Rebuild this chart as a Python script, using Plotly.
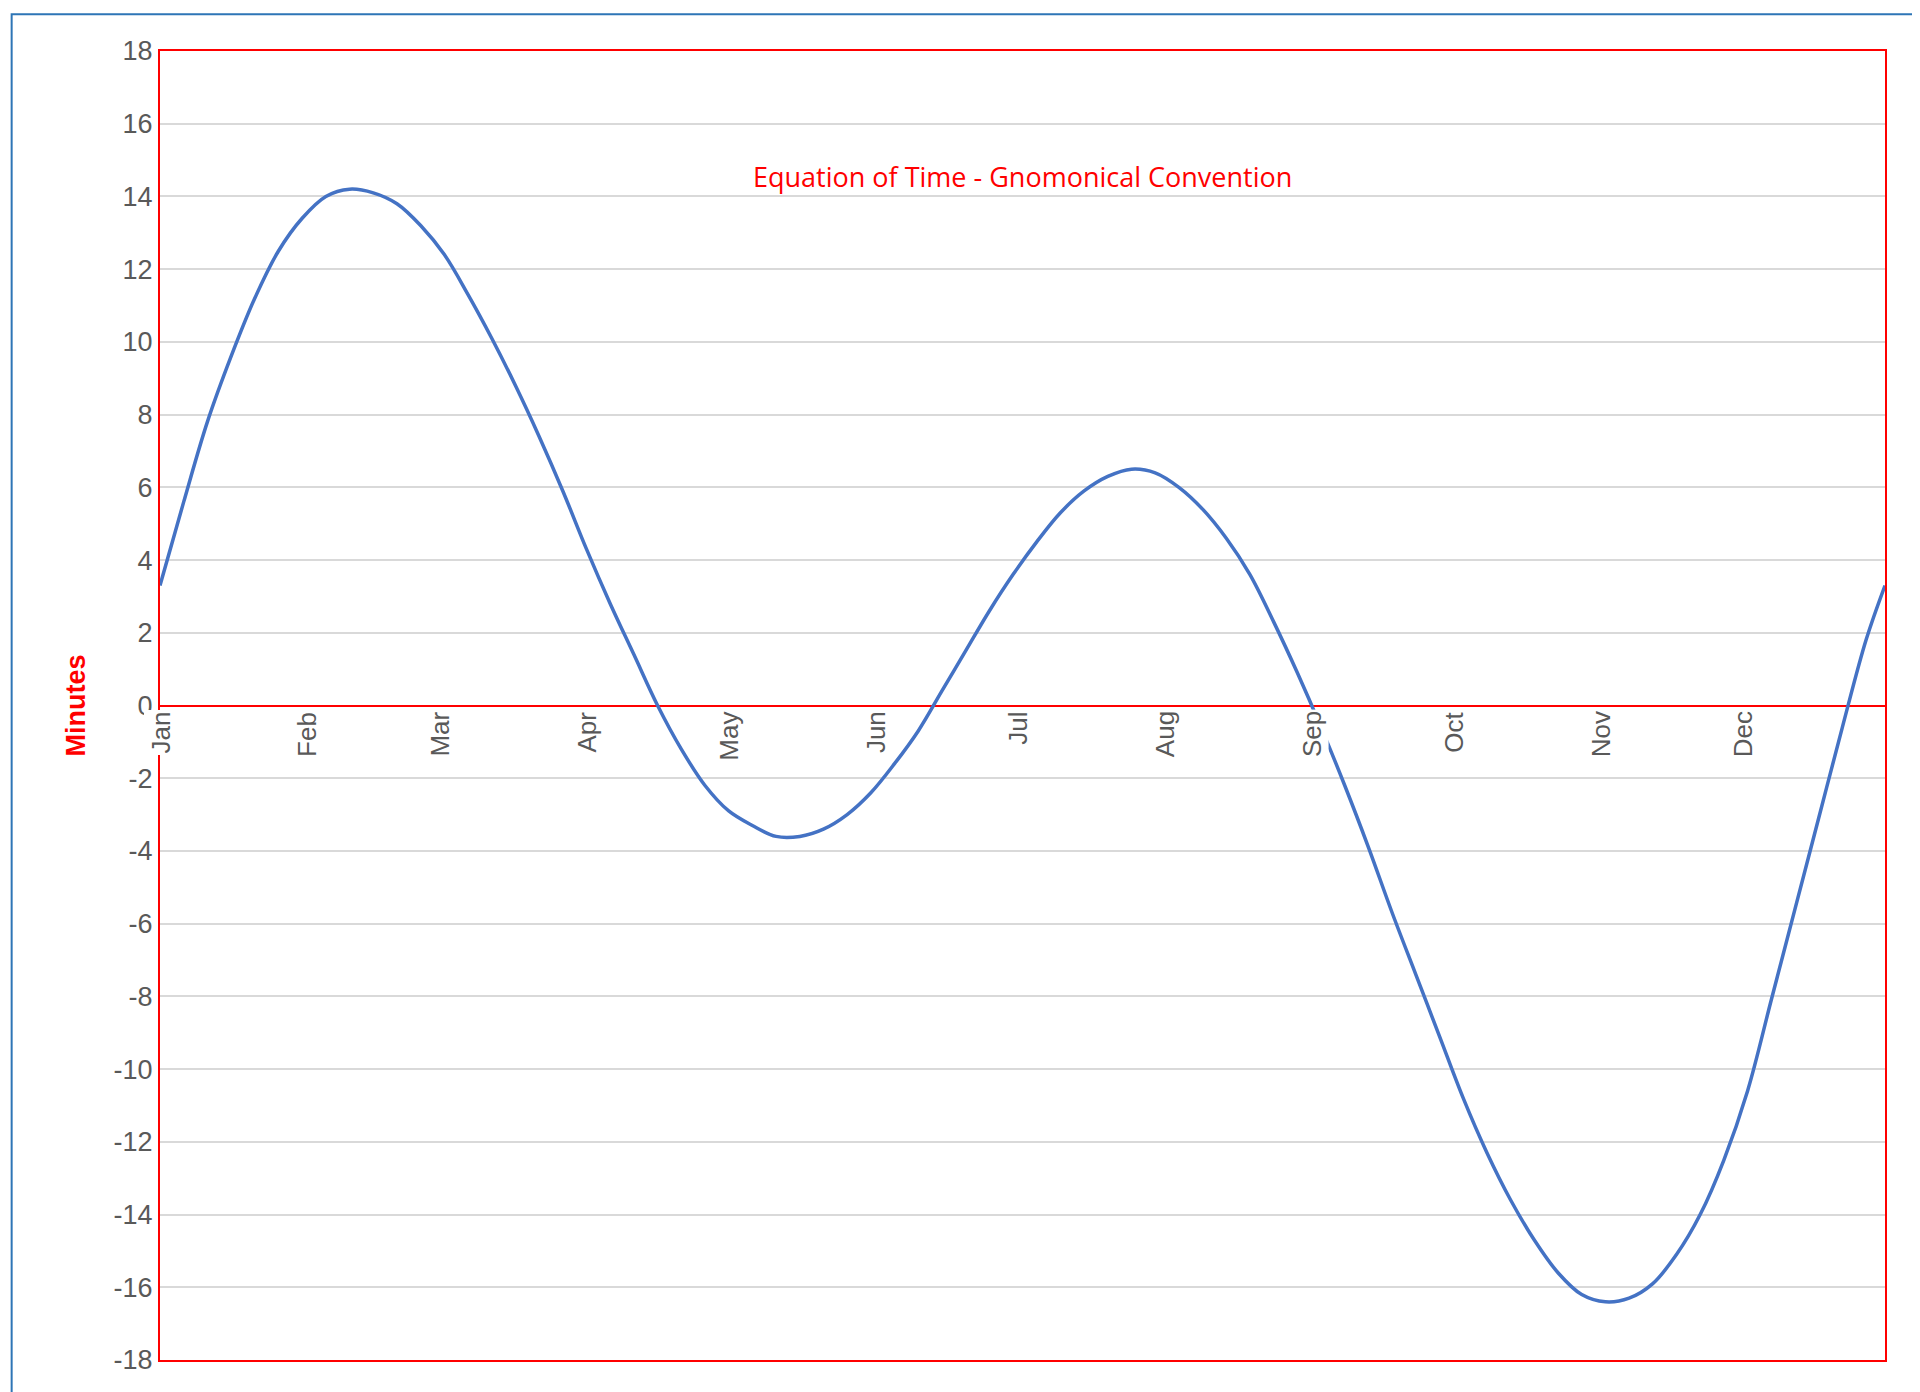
import plotly.graph_objects as go

days = [1,6,11,16,21,26,31,36,41,46,51,56,61,66,71,76,81,86,91,96,101,106,111,116,121,126,131,136,141,146,151,156,161,166,171,176,181,186,191,196,201,206,211,216,221,226,231,236,241,246,251,256,261,266,271,276,281,286,291,296,301,306,311,316,321,326,331,336,341,346,351,356,361,365]
eot = [3.3,5.6,7.8,9.6,11.2,12.5,13.4,14.0,14.2,14.1,13.8,13.2,12.4,11.3,10.1,8.8,7.4,5.9,4.3,2.8,1.4,0.0,-1.2,-2.2,-2.9,-3.3,-3.6,-3.6,-3.4,-3.0,-2.4,-1.6,-0.7,0.4,1.5,2.6,3.6,4.5,5.3,5.9,6.3,6.5,6.4,6.0,5.4,4.6,3.6,2.3,0.9,-0.6,-2.2,-3.9,-5.7,-7.4,-9.1,-10.8,-12.3,-13.6,-14.7,-15.6,-16.2,-16.4,-16.3,-15.9,-15.1,-14.0,-12.5,-10.6,-8.1,-5.6,-3.1,-0.6,1.8,3.3]
month_days = [1,32,60,91,121,152,182,213,244,274,305,335]
month_names = ["Jan","Feb","Mar","Apr","May","Jun","Jul","Aug","Sep","Oct","Nov","Dec"]
yticks = list(range(-18, 19, 2))
ytick_text = [str(v) for v in yticks]

fig = go.Figure(go.Scatter(x=days, y=eot, mode="lines", line=dict(color="#4472C4", width=3.5, shape="spline")))
for d, m in zip(month_days, month_names):
    fig.add_annotation(x=d, y=0, xref="x", yref="y", text=m, textangle=-90, showarrow=False,
                       yanchor="top", yshift=-4, bgcolor="white", font=dict(size=26, color="#595959", family="Liberation Sans"))
fig.add_annotation(x=0.5, y=0.92, xref="paper", yref="paper", text="Equation of Time - Gnomonical Convention",
                   showarrow=False, font=dict(size=27, color="red", family="Open Sans"))
fig.add_shape(type="rect", xref="paper", yref="paper", x0=-0.086, x1=1.0203, y0=-0.0252, y1=1.028,
              line=dict(color="#2E75B6", width=2))
fig.update_layout(
    width=1920, height=1392, plot_bgcolor="white", paper_bgcolor="white", showlegend=False,
    margin=dict(l=152, r=43, t=43, b=40),
    xaxis=dict(range=[1, 365], showgrid=False, showticklabels=False, zeroline=False,
               showline=True, mirror=True, linecolor="red", linewidth=2),
    yaxis=dict(range=[-18, 18], tickvals=yticks, ticktext=ytick_text, showgrid=True, gridcolor="#D9D9D9", gridwidth=1.5,
               zeroline=True, zerolinecolor="red", zerolinewidth=2,
               showline=True, mirror=True, linecolor="red", linewidth=2,
               tickfont=dict(size=27, color="#595959", family="Liberation Sans"), ticks="",
               title=dict(text="<b>Minutes</b>", font=dict(size=27, color="red", family="Liberation Sans"), standoff=20)),
)
fig.write_html("out.html")
